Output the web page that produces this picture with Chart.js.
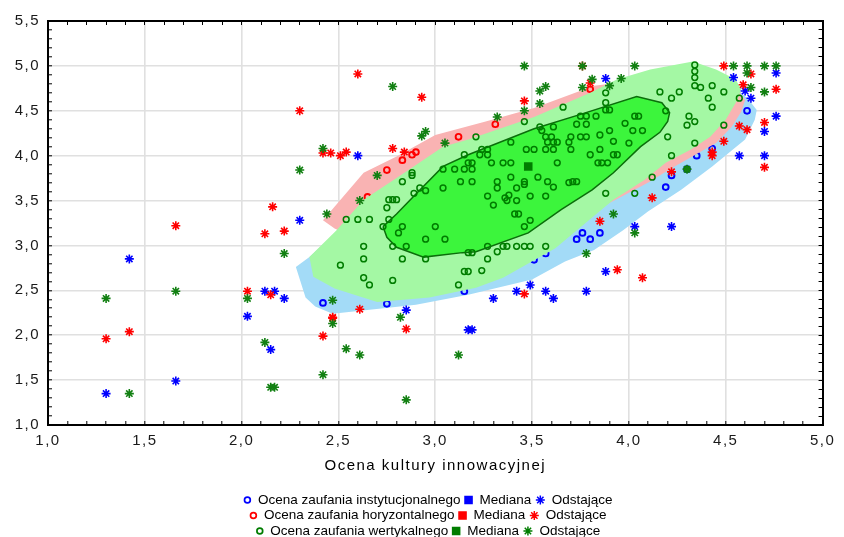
<!DOCTYPE html>
<html>
<head>
<meta charset="utf-8">
<script src="https://cdn.jsdelivr.net/npm/chart.js@4.4.1/dist/chart.umd.min.js"></script>
<style>
  html, body { margin: 0; padding: 0; background: #fff; }
</style>
</head>
<body>
<canvas id="chart" width="844" height="537"></canvas>
<script>
const xTickLabels = ['1,0', '1,5', '2,0', '2,5', '3,0', '3,5', '4,0', '4,5', '5,0'];
const yTickLabels = ['1,0', '1,5', '2,0', '2,5', '3,0', '3,5', '4,0', '4,5', '5,0', '5,5'];
const xTitle = 'Ocena kultury innowacyjnej';
const groupNames = ['Ocena zaufania instytucjonalnego', 'Ocena zaufania horyzontalnego', 'Ocena zaufania wertykalnego'];
const medianLabel = 'Mediana';
const outlierLabel = 'Odstające';

// institutional trust (blue) - only the marks that are not hidden by the other groups
const blueFenceX = [2.28, 2.35, 2.49, 2.80, 3.31, 3.82, 4.33, 4.56, 4.62, 4.66, 4.65, 4.60, 4.43, 4.27, 4.10, 3.97, 3.82, 3.67, 3.50, 3.17, 2.90, 2.47, 2.38, 2.33];
const blueFenceY = [2.76, 2.87, 3.15, 3.68, 4.07, 4.51, 4.90, 4.74, 4.62, 4.51, 4.40, 4.18, 3.88, 3.62, 3.38, 3.17, 2.95, 2.82, 2.62, 2.45, 2.34, 2.24, 2.32, 2.42];
const blueInX = [2.42, 2.75, 3.15, 3.51, 3.57, 3.73, 3.76, 3.80, 3.85, 4.19, 4.22, 4.30, 4.35, 4.43, 4.61];
const blueInY = [2.36, 2.35, 2.49, 2.84, 2.91, 3.07, 3.14, 3.07, 3.14, 3.65, 3.78, 3.85, 4.00, 4.08, 4.50];
const blueOutX = [2.60, 2.30, 1.42, 3.88, 4.54, 4.76, 4.60, 4.63, 4.76, 4.70, 4.57, 4.70, 4.03, 4.22, 3.88, 3.78, 3.49, 3.42, 3.57, 3.61, 3.30, 3.17, 3.19, 1.30, 1.66, 2.03, 2.12, 2.17, 2.22, 2.15, 2.85];
const blueOutY = [4.00, 3.28, 2.85, 4.86, 4.87, 4.92, 4.72, 4.64, 4.44, 4.27, 4.00, 4.00, 3.21, 3.21, 2.71, 2.49, 2.56, 2.49, 2.49, 2.41, 2.41, 2.06, 2.06, 1.35, 1.49, 2.21, 2.49, 2.49, 2.41, 1.84, 2.28];

// horizontal trust (red)
const redFenceX = [2.42, 2.48, 2.80, 3.31, 3.59, 3.88, 4.10, 4.22, 4.45, 4.53, 4.58, 4.60, 4.56, 4.43, 4.13, 3.82, 3.51, 3.26, 3.00, 2.80, 2.63];
const redFenceY = [3.28, 3.19, 2.86, 2.78, 3.01, 3.45, 3.70, 3.86, 4.14, 4.32, 4.49, 4.62, 4.74, 4.87, 4.86, 4.78, 4.53, 4.38, 4.23, 3.99, 3.81];
const redInX = [2.65, 2.75, 2.83, 2.88, 2.90, 3.12, 3.31, 3.80];
const redInY = [3.54, 3.84, 3.95, 4.01, 4.04, 4.21, 4.35, 4.74];
const redOutX = [2.60, 2.30, 2.42, 2.46, 2.51, 2.54, 2.78, 2.84, 2.93, 2.16, 1.66, 2.12, 2.22, 3.46, 3.76, 3.80, 4.49, 4.63, 4.59, 4.76, 4.70, 4.57, 4.61, 4.49, 4.43, 4.43, 4.70, 4.22, 4.12, 3.85, 3.94, 4.07, 3.46, 1.30, 1.42, 2.03, 2.15, 2.42, 2.47, 2.47, 2.61, 2.85];
const redOutY = [4.91, 4.50, 4.03, 4.03, 4.00, 4.04, 4.08, 4.04, 4.65, 3.43, 3.22, 3.13, 3.16, 4.61, 5.00, 4.81, 5.00, 4.91, 4.79, 4.74, 4.37, 4.33, 4.29, 4.16, 4.04, 4.00, 3.87, 3.82, 3.53, 3.27, 2.73, 2.64, 2.46, 1.96, 2.04, 2.49, 2.45, 1.99, 2.20, 2.19, 2.29, 2.07];

// vertical trust (green)
const greenFenceX = [2.35, 2.49, 2.63, 2.80, 3.04, 3.17, 3.51, 3.80, 3.94, 4.11, 4.33, 4.45, 4.55, 4.58, 4.56, 4.50, 4.42, 4.32, 4.19, 4.08, 3.92, 3.62, 3.35, 3.21, 2.97, 2.70, 2.48, 2.37];
const greenFenceY = [2.87, 3.17, 3.51, 3.75, 4.10, 4.18, 4.43, 4.70, 4.85, 4.96, 5.05, 4.96, 4.85, 4.74, 4.62, 4.40, 4.21, 4.07, 3.92, 3.73, 3.51, 2.97, 2.64, 2.53, 2.42, 2.37, 2.52, 2.65];
const greenBagX = [2.73, 2.80, 2.89, 3.04, 3.17, 3.51, 3.75, 4.04, 4.17, 4.21, 4.20, 4.16, 4.06, 3.92, 3.81, 3.65, 3.48, 3.21, 3.14, 2.94, 2.80, 2.75];
const greenBagY = [3.21, 3.35, 3.55, 3.88, 4.01, 4.30, 4.46, 4.66, 4.59, 4.48, 4.38, 4.26, 4.10, 3.81, 3.62, 3.40, 3.14, 2.93, 2.92, 2.87, 2.98, 3.09];
const greenInX = [2.83, 2.88, 2.88, 2.92, 2.95, 2.89, 3.04, 3.04, 2.76, 2.78, 2.80, 2.75, 2.54, 2.60, 2.66, 2.76, 2.73, 2.83, 3.00, 2.81,
  2.63, 2.78, 2.85, 2.95, 3.05, 2.95, 2.83, 2.63, 2.51, 2.63, 2.66, 2.78, 3.17, 3.19, 3.15, 3.17, 3.12, 3.27, 3.30, 3.36,
  3.38, 3.37, 3.42, 3.49, 3.57, 3.41, 3.43, 3.49, 3.46, 3.27, 3.32, 3.35, 3.37, 3.42, 3.46, 3.49, 3.57, 3.27, 3.24, 3.88,
  4.03, 3.21, 3.46, 3.66, 3.75, 3.78, 3.83, 3.15, 3.24, 3.27, 3.23, 3.27, 3.39, 3.47, 3.51, 3.57, 3.54, 3.55, 3.61, 3.57,
  3.60, 3.58, 3.61, 3.63, 3.61, 3.70, 3.69, 3.70, 3.73, 3.78, 3.75, 3.78, 3.80, 3.10, 3.15, 3.19, 3.17, 3.19, 3.29, 3.35,
  3.39, 3.63, 3.13, 3.19, 3.32, 3.39, 3.46, 3.53, 3.58, 3.69, 3.71, 3.73, 3.32, 3.42, 3.46, 3.61, 3.88, 3.88, 3.90, 3.88,
  4.03, 4.05, 3.98, 4.02, 4.07, 3.90, 3.85, 3.92, 4.00, 3.85, 3.84, 3.86, 3.89, 3.92, 3.94, 4.12, 4.20, 4.22, 4.34, 4.31,
  4.34, 4.30, 4.49, 4.19, 4.16, 4.22, 4.26, 4.34, 4.34, 4.34, 4.34, 4.37, 4.43, 4.41, 4.43, 4.49, 4.57, 4.30];
const greenInY = [3.71, 3.81, 3.78, 3.64, 3.61, 3.58, 3.85, 3.64, 3.51, 3.51, 3.51, 3.42, 3.29, 3.29, 3.29, 3.29, 3.21, 3.21, 3.21, 3.14,
  2.99, 2.99, 2.99, 3.07, 3.07, 2.85, 2.85, 2.85, 2.78, 2.64, 2.56, 2.61, 2.92, 2.92, 2.71, 2.71, 2.56, 3.55, 3.45, 3.53,
  3.56, 3.50, 3.50, 3.55, 3.55, 3.35, 3.35, 3.28, 3.21, 2.99, 2.93, 2.99, 2.99, 2.99, 2.99, 2.99, 2.99, 2.85, 2.72, 3.58,
  3.58, 4.21, 4.38, 4.54, 4.44, 4.44, 4.44, 4.01, 4.07, 4.07, 4.01, 4.01, 4.15, 4.07, 4.07, 4.07, 4.32, 4.28, 4.32, 4.21,
  4.21, 4.15, 4.15, 4.15, 4.07, 4.21, 4.15, 4.07, 4.35, 4.35, 4.21, 4.21, 4.01, 3.85, 3.85, 3.85, 3.92, 3.92, 3.92, 3.92,
  3.92, 3.92, 3.71, 3.71, 3.71, 3.76, 3.71, 3.76, 3.71, 3.70, 3.71, 3.71, 3.64, 3.64, 3.68, 3.65, 4.59, 4.51, 4.51, 4.70,
  4.44, 4.44, 4.36, 4.28, 4.28, 4.28, 4.23, 4.16, 4.14, 4.07, 3.92, 3.92, 3.92, 4.01, 4.01, 3.76, 4.21, 4.00, 4.14, 4.44,
  4.38, 4.34, 4.34, 4.50, 4.71, 4.64, 4.71, 5.01, 4.94, 4.87, 4.78, 4.76, 4.78, 4.64, 4.54, 4.71, 4.64, 3.85];
const greenMedianX = [3.48];
const greenMedianY = [3.88];
const greenOutX = [2.78, 2.42, 2.30, 2.70, 2.61, 2.44, 2.22, 2.93, 2.95, 3.05, 3.46, 3.76, 4.03, 3.57, 3.54, 3.54, 3.46, 3.32, 3.76, 3.81,
  3.96, 3.90, 4.54, 4.61, 4.70, 4.76, 4.61, 4.63, 4.70, 4.30, 3.92, 4.03, 3.78, 3.12, 1.30, 1.42, 1.66, 2.03, 2.12, 2.15,
  2.17, 2.42, 2.47, 2.47, 2.54, 2.61, 2.82, 2.85];
const greenOutY = [4.77, 4.08, 3.84, 3.78, 3.50, 3.35, 2.91, 4.22, 4.27, 4.14, 5.00, 5.00, 5.00, 4.77, 4.72, 4.58, 4.50, 4.43, 4.76, 4.85,
  4.86, 4.78, 5.00, 5.00, 5.00, 5.00, 4.92, 4.76, 4.71, 3.85, 3.35, 3.14, 2.91, 1.78, 2.41, 1.35, 2.49, 2.41, 1.92, 1.42,
  1.42, 1.56, 2.39, 2.13, 1.85, 1.78, 2.20, 1.28];

const BLUE = '#0000ff';
const RED = '#ff0000';
const GREEN = '#007d00';
const groupColors = [BLUE, RED, GREEN];
const FONT = '"Liberation Sans", Arial, sans-serif';

function points(xs, ys) {
  return xs.map((x, i) => ({ x, y: ys[i] }));
}

function polygon(xs, ys) {
  const p = points(xs, ys);
  p.push(p[0]);
  return p;
}

function isMajor(v) {
  return Math.abs(v * 2 - Math.round(v * 2)) < 1e-6;
}

function area(xs, ys, color, order, border) {
  return {
    type: 'line',
    data: polygon(xs, ys),
    fill: 'shape',
    backgroundColor: color,
    borderColor: border || 'rgba(0,0,0,0)',
    borderWidth: border ? 1.5 : 0,
    pointRadius: 0,
    tension: 0,
    order
  };
}

function markerSize(style) {
  if (style === 'circle') return 2.9;
  return style === 'rect' ? 5 : 4.5;
}

function marks(xs, ys, style, color, order, width) {
  const filled = style === 'rect';
  return {
    data: points(xs, ys),
    pointStyle: style,
    pointRadius: markerSize(style),
    pointBorderWidth: width || 1.5,
    pointBorderColor: color,
    pointBackgroundColor: filled ? color : 'rgba(0,0,0,0)',
    order
  };
}

function marker(ctx, style, x, y, color) {
  ctx.save();
  ctx.strokeStyle = color;
  ctx.fillStyle = style === 'rect' ? color : 'rgba(0,0,0,0)';
  ctx.lineWidth = style === 'circle' ? 1.7 : 1.5;
  Chart.helpers.drawPoint(ctx, { pointStyle: style, radius: markerSize(style), rotation: 0, borderWidth: ctx.lineWidth }, x, y);
  ctx.restore();
}

// three legend rows, one per group, centred under the plot
const rowLegend = {
  id: 'rowLegend',
  beforeDraw(chart) {
    chart.ctx.letterSpacing = '1.5px';
  },
  afterDraw(chart) {
    const ctx = chart.ctx;
    ctx.save();
    ctx.letterSpacing = '0px';
    ctx.font = '13.5px ' + FONT;
    ctx.textBaseline = 'middle';
    ctx.textAlign = 'left';
    groupNames.forEach((name, i) => {
      const y = chart.chartArea.bottom + 75 + i * 15.5;
      const wName = ctx.measureText(name).width;
      const wMed = ctx.measureText(medianLabel).width;
      const wOut = ctx.measureText(outlierLabel).width;
      const total = 4 + 10.5 + wName + 8 + 11 + wMed + 9 + 11.5 + wOut;
      let x = 428 - total / 2 + 4;
      marker(ctx, 'circle', x, y, groupColors[i]);
      ctx.fillStyle = '#000';
      ctx.fillText(name, x + 10.5, y);
      x += 10.5 + wName + 8;
      marker(ctx, 'rect', x, y, groupColors[i]);
      ctx.fillStyle = '#000';
      ctx.fillText(medianLabel, x + 11, y);
      x += 11 + wMed + 9;
      marker(ctx, 'star', x, y, groupColors[i]);
      ctx.fillStyle = '#000';
      ctx.fillText(outlierLabel, x + 11.5, y);
    });
    ctx.restore();
  }
};

const grid = {
  color: (c) => (c.tick && isMajor(c.tick.value) ? '#e0e0e0' : 'rgba(0,0,0,0)'),
  lineWidth: 1.6,
  tickLength: -4,
  tickColor: '#000',
  tickWidth: 1
};
const frameGrid = { drawOnChartArea: false, tickLength: -4, tickColor: '#000', tickWidth: 1 };
const border = { display: true, color: '#000', width: 2 };

new Chart(document.getElementById('chart'), {
  type: 'scatter',
  data: {
    datasets: [
      area(blueFenceX, blueFenceY, '#a3dbf7', 12),
      marks(blueInX, blueInY, 'circle', BLUE, 11, 1.9),
      area(redFenceX, redFenceY, '#f9b3b3', 10),
      marks(redInX, redInY, 'circle', RED, 9, 1.9),
      area(greenFenceX, greenFenceY, '#a4f8a4', 8),
      area(greenBagX, greenBagY, '#3cf53c', 7, '#0b6e0b'),
      marks(greenInX, greenInY, 'circle', GREEN, 6, 1.5),
      marks(greenMedianX, greenMedianY, 'rect', GREEN, 5),
      marks(blueOutX, blueOutY, 'star', BLUE, 3, 1.6),
      marks(redOutX, redOutY, 'star', RED, 2, 1.6),
      marks(greenOutX, greenOutY, 'star', '#128012', 1, 1.6)
    ]
  },
  options: {
    responsive: false,
    animation: false,
    events: [],
    layout: { padding: { left: 0, right: 0, top: 0, bottom: 55 } },
    plugins: {
      legend: { display: false },
      tooltip: { enabled: false }
    },
    scales: {
      x: {
        type: 'linear',
        position: 'bottom',
        min: 1,
        max: 5,
        ticks: {
          stepSize: 0.1,
          autoSkip: false,
          maxRotation: 0,
          padding: 11,
          color: '#1a1a1a',
          font: { family: FONT, size: 15 },
          callback: (v) => (isMajor(v) ? xTickLabels[Math.round((v - 1) * 2)] : '')
        },
        grid,
        border,
        title: {
          display: true,
          text: xTitle,
          color: '#000',
          font: { family: FONT, size: 15 },
          padding: { top: 0, bottom: 7 }
        },
        afterFit: (s) => { s.height = 57; }
      },
      y: {
        type: 'linear',
        position: 'left',
        min: 1,
        max: 5.5,
        ticks: {
          stepSize: 0.1,
          autoSkip: false,
          padding: 12,
          color: '#1a1a1a',
          font: { family: FONT, size: 15 },
          callback: (v) => (isMajor(v) ? yTickLabels[Math.round((v - 1) * 2)] : '')
        },
        grid,
        border,
        afterFit: (s) => { s.width = 48; }
      },
      x2: {
        type: 'linear',
        position: 'top',
        min: 1,
        max: 5,
        ticks: { stepSize: 0.1, autoSkip: false, display: false },
        grid: frameGrid,
        border,
        afterFit: (s) => { s.height = 21; }
      },
      y2: {
        type: 'linear',
        position: 'right',
        min: 1,
        max: 5.5,
        ticks: { stepSize: 0.1, autoSkip: false, display: false },
        grid: frameGrid,
        border,
        afterFit: (s) => { s.width = 14; }
      }
    }
  },
  plugins: [rowLegend]
});
</script>
</body>
</html>
